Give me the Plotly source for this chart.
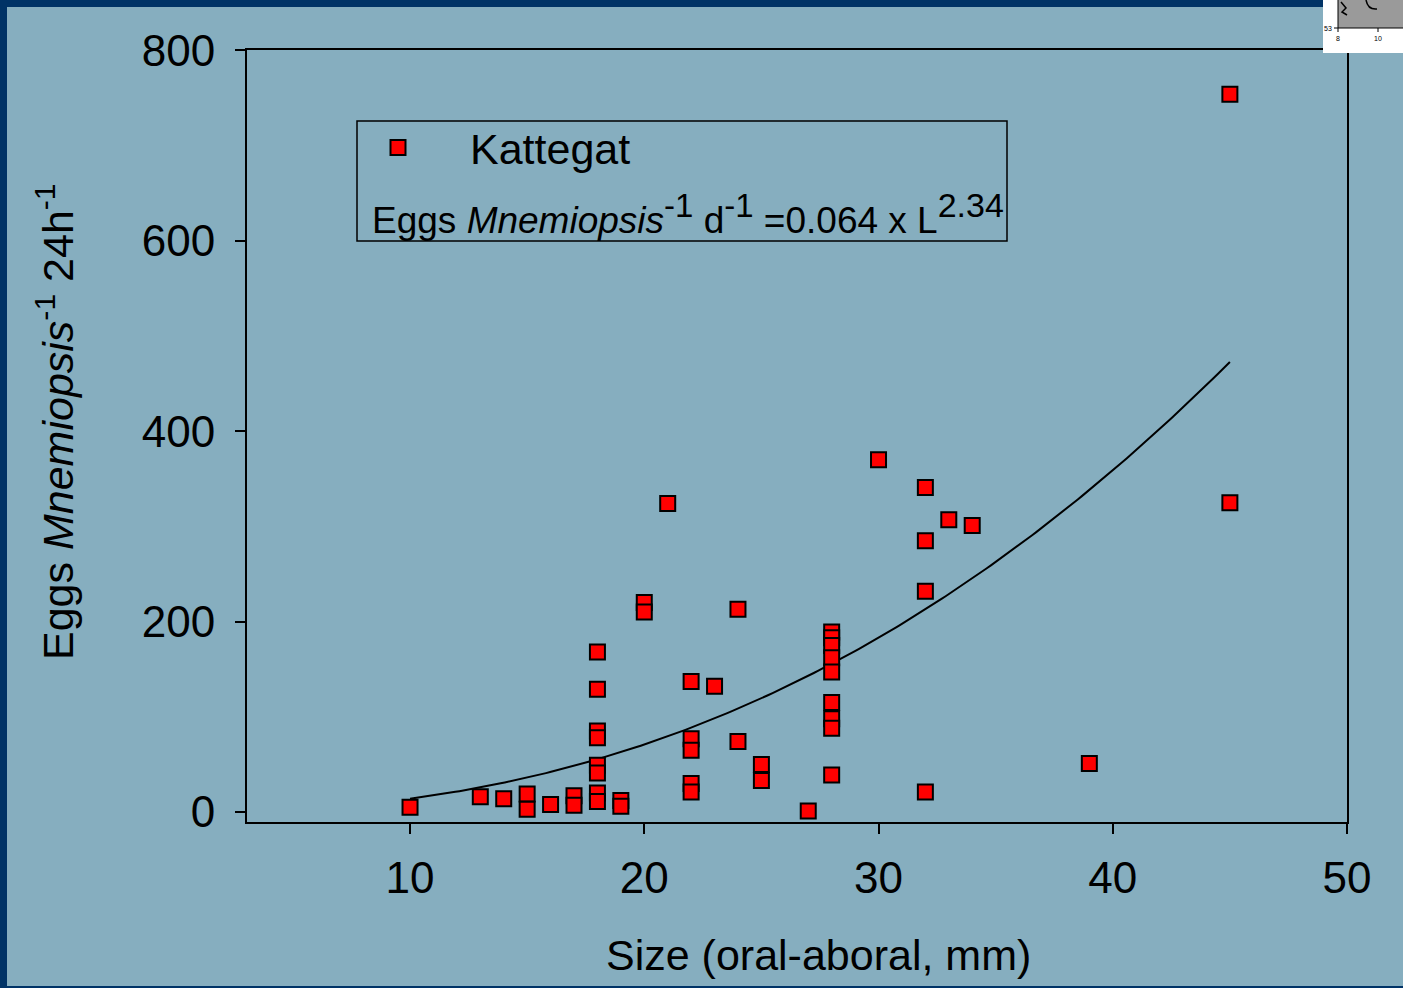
import plotly.graph_objects as go
import numpy as np

# ---------------- data ----------------
size_mm = [10, 13, 14, 15, 15, 16, 17, 17,
           18, 18, 18, 18, 18, 18, 18, 18,
           19, 19, 20, 20, 21,
           22, 22, 22, 22, 22, 23, 24, 24, 25, 25, 27,
           28, 28, 28, 28, 28, 28, 28, 28, 28,
           30, 32, 32, 32, 32, 33, 34, 39, 45, 45]
eggs = [5, 16, 14, 19, 3, 8, 17, 7,
        168, 129, 85, 78, 49, 41, 20, 11,
        12, 6, 220, 210, 324,
        137, 77, 65, 30, 21, 132, 213, 74, 50, 33, 1,
        189, 183, 175, 162, 147, 115, 98, 88, 39,
        370, 341, 285, 232, 21, 307, 301, 51, 754, 325]
FIT_A = 0.064
FIT_B = 2.34
FIT_L_MIN, FIT_L_MAX = 10, 45
x_ticks = [10, 20, 30, 40, 50]
y_ticks = [0, 200, 400, 600, 800]
series_name = "Kattegat"

# ---------------- layout geometry ----------------
W, H = 1403, 988
PL, PR, PT, PB = 247, 1347, 50, 822
BG = "#86AEBF"
BORDER = "#003366"
FONT = "Arial, Liberation Sans, sans-serif"


def px(x):
    return (x - PL) / (PR - PL)


def py(y):
    return (PB - y) / (PB - PT)


def sup(t, size):
    return f"<sup><span style='font-size:{size}px'>{t}</span></sup>"


fit_L = np.linspace(FIT_L_MIN, FIT_L_MAX, 200)
fit_E = FIT_A * fit_L ** FIT_B

fig = go.Figure()
fig.add_trace(go.Scatter(
    x=fit_L, y=fit_E, mode="lines", line=dict(color="black", width=2),
    showlegend=False, hoverinfo="skip"))
fig.add_trace(go.Scatter(
    x=size_mm, y=eggs, mode="markers", name=series_name,
    marker=dict(symbol="square", size=15, color="#FF0000",
                line=dict(color="black", width=2))))

shapes = []
# frame borders
shapes.append(dict(type="rect", xref="paper", yref="paper", x0=px(0), x1=px(W), y0=py(0), y1=py(7),
                   fillcolor=BORDER, line=dict(width=0), layer="below"))
shapes.append(dict(type="rect", xref="paper", yref="paper", x0=px(0), x1=px(7), y0=py(0), y1=py(H),
                   fillcolor=BORDER, line=dict(width=0), layer="below"))
shapes.append(dict(type="rect", xref="paper", yref="paper", x0=px(0), x1=px(W), y0=py(986), y1=py(H),
                   fillcolor=BORDER, line=dict(width=0), layer="below"))
# legend box
shapes.append(dict(type="rect", xref="paper", yref="paper", x0=px(357), x1=px(1007), y0=py(121), y1=py(241),
                   fillcolor="rgba(0,0,0,0)", line=dict(color="black", width=1.5)))
# inset fragment top-right
shapes.append(dict(type="rect", xref="paper", yref="paper", x0=px(1323), x1=px(W), y0=py(0), y1=py(53),
                   fillcolor="white", line=dict(width=0)))
shapes.append(dict(type="rect", xref="paper", yref="paper", x0=px(1338), x1=px(W), y0=py(0), y1=py(28),
                   fillcolor="#9A9A9A", line=dict(width=0)))
shapes.append(dict(type="line", xref="paper", yref="paper", x0=px(1338), x1=px(1338), y0=py(0), y1=py(32),
                   line=dict(color="black", width=1)))
shapes.append(dict(type="line", xref="paper", yref="paper", x0=px(1334), x1=px(W), y0=py(28), y1=py(28),
                   line=dict(color="black", width=1)))
shapes.append(dict(type="line", xref="paper", yref="paper", x0=px(1378), x1=px(1378), y0=py(28), y1=py(32),
                   line=dict(color="black", width=1)))
shapes.append(dict(type="path", xref="paper", yref="paper",
                   path=f"M {px(1366)},{py(0)} Q {px(1368)},{py(10)} {px(1377)},{py(9)}",
                   line=dict(color="black", width=1.5)))
shapes.append(dict(type="path", xref="paper", yref="paper",
                   path=f"M {px(1341)},{py(2)} L {px(1346)},{py(8)} L {px(1342)},{py(12)} L {px(1347)},{py(15)}",
                   line=dict(color="black", width=1.5)))

eq_text = ("Eggs <i>Mnemiopsis</i>" + sup("-1", 33) + " d" + sup("-1", 33)
           + " =0.064 x L" + sup("2.34", 34))

annotations = [
    dict(text=eq_text,
         xref="paper", yref="paper", x=px(370), y=py(214), xanchor="left", yanchor="middle",
         showarrow=False, font=dict(family=FONT, size=37, color="black")),
    dict(text="Size (oral-aboral, mm)", xref="paper", yref="paper", x=px(818), y=py(955),
         xanchor="center", yanchor="middle", showarrow=False,
         font=dict(family=FONT, size=43, color="black")),
    dict(text="Eggs <i>Mnemiopsis</i><sup>-1</sup> 24h<sup>-1</sup>", xref="paper", yref="paper",
         x=px(55), y=py(421), xanchor="center", yanchor="middle", textangle=-90, showarrow=False,
         font=dict(family=FONT, size=43, color="black")),
    dict(text="53", xref="paper", yref="paper", x=px(1334), y=py(29), xanchor="right", yanchor="middle",
         showarrow=False, font=dict(family=FONT, size=7, color="black")),
    dict(text="8", xref="paper", yref="paper", x=px(1338), y=py(39), xanchor="center", yanchor="middle",
         showarrow=False, font=dict(family=FONT, size=7, color="black")),
    dict(text="10", xref="paper", yref="paper", x=px(1378), y=py(39), xanchor="center", yanchor="middle",
         showarrow=False, font=dict(family=FONT, size=7, color="black")),
]

axis_common = dict(showgrid=False, zeroline=False, showline=True, linecolor="black", linewidth=2,
                   mirror=True, ticks="outside", ticklen=10, tickwidth=2, tickcolor="black",
                   tickfont=dict(family=FONT, size=44, color="black"))

fig.update_layout(
    width=W, height=H,
    margin=dict(l=PL, r=W - PR, t=PT, b=H - PB, pad=0),
    paper_bgcolor=BG, plot_bgcolor=BG,
    xaxis=dict(range=[3.04, 50], tickvals=x_ticks, ticklabelstandoff=6, **axis_common),
    yaxis=dict(range=[-10.5, 800.5], tickvals=y_ticks, ticklabelstandoff=11, **axis_common),
    legend=dict(x=px(326), y=py(113), xanchor="left", yanchor="top", bgcolor="rgba(0,0,0,0)",
                borderwidth=0, font=dict(family=FONT, size=43, color="black"), itemwidth=134),
    shapes=shapes, annotations=annotations, showlegend=True,
)

fig.write_html("out.html")
